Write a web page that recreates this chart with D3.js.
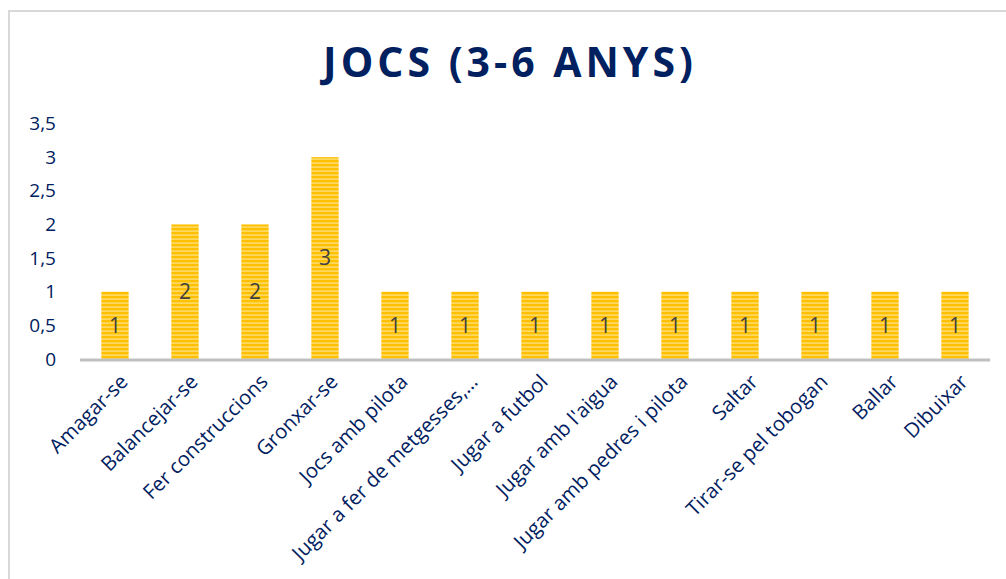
<!DOCTYPE html>
<html>
<head>
    <title>Jocs (3-6 anys)</title>
    <script src="https://d3js.org/d3.v7.min.js"></script>
    <style>
        body { margin: 0; background: #fff; }
        text { font-family: "Open Sans", "Noto Sans", sans-serif; }
    </style>
</head>
<body>
    <svg width="1006" height="579"></svg>
    <script>
        const categories = ["Amagar-se", "Balancejar-se", "Fer construccions", "Gronxar-se",
            "Jocs amb pilota", "Jugar a fer de metgesses,…", "Jugar a futbol", "Jugar amb l'aigua",
            "Jugar amb pedres i pilota", "Saltar", "Tirar-se pel tobogan", "Ballar", "Dibuixar"];
        const values = [1, 2, 2, 3, 1, 1, 1, 1, 1, 1, 1, 1, 1];
        const yTicks = [0, 0.5, 1, 1.5, 2, 2.5, 3, 3.5];
        const title = "JOCS (3-6 ANYS)";

        const navy = "#002060";
        const svg = d3.select("svg");

        // chart border
        svg.append("rect")
           .attr("x", 9).attr("y", 11)
           .attr("width", 1100).attr("height", 700)
           .attr("fill", "none")
           .attr("stroke", "#d9d9d9")
           .attr("stroke-width", 2);

        // striped gold fill
        const defs = svg.append("defs");
        const pat = defs.append("pattern")
            .attr("id", "stripes")
            .attr("patternUnits", "userSpaceOnUse")
            .attr("width", 8).attr("height", 4);
        pat.append("rect").attr("width", 8).attr("height", 4).attr("fill", "#ffc000");
        pat.append("rect").attr("y", 2.5).attr("width", 8).attr("height", 1.2).attr("fill", "#ffe38a");

        const x = d3.scaleBand()
                    .domain(categories)
                    .range([80, 990])
                    .paddingInner(0.61)
                    .paddingOuter(0.305);

        const y = d3.scaleLinear()
                    .domain([0, 3.5])
                    .range([359, 123.5]);

        svg.append("text")
           .attr("x", 510).attr("y", 77)
           .attr("text-anchor", "middle")
           .attr("fill", navy)
           .style("font-size", "41px")
           .style("font-weight", "bold")
           .style("letter-spacing", "4px")
           .text(title);

        // y axis labels
        const yAxis = svg.append("g")
            .attr("transform", "translate(56,0)")
            .call(d3.axisLeft(y).tickValues(yTicks).tickSize(0).tickPadding(0)
                .tickFormat(d => String(d).replace(".", ",")));
        yAxis.select(".domain").remove();
        yAxis.selectAll("text")
             .attr("fill", navy)
             .style("font-size", "19px")
             .style("font-family", "'Open Sans', sans-serif");

        // bars
        svg.selectAll(".bar")
           .data(values)
           .enter().append("rect")
           .attr("class", "bar")
           .attr("x", (d, i) => x(categories[i]))
           .attr("y", d => y(d))
           .attr("width", x.bandwidth())
           .attr("height", d => y(0) - y(d))
           .attr("fill", "url(#stripes)");

        // data labels
        svg.selectAll(".lbl")
           .data(values)
           .enter().append("text")
           .attr("class", "lbl")
           .attr("x", (d, i) => x(categories[i]) + x.bandwidth() / 2)
           .attr("y", d => (y(d) + y(0)) / 2)
           .attr("dy", "0.35em")
           .attr("text-anchor", "middle")
           .attr("fill", "#404040")
           .style("font-size", "21px")
           .text(d => d);

        // x axis line
        svg.append("line")
           .attr("x1", 80).attr("x2", 990)
           .attr("y1", y(0) + 1).attr("y2", y(0) + 1)
           .attr("stroke", "#bfbfbf")
           .attr("stroke-width", 3);

        // category labels
        svg.selectAll(".cat")
           .data(categories)
           .enter().append("text")
           .attr("class", "cat")
           .attr("transform", d => `translate(${x(d) + x.bandwidth() / 2 + 9},${378}) rotate(-45)`)
           .attr("dy", "0.35em")
           .attr("text-anchor", "end")
           .attr("fill", navy)
           .style("font-size", "20.3px")
           .text(d => d);
    </script>
</body>
</html>
